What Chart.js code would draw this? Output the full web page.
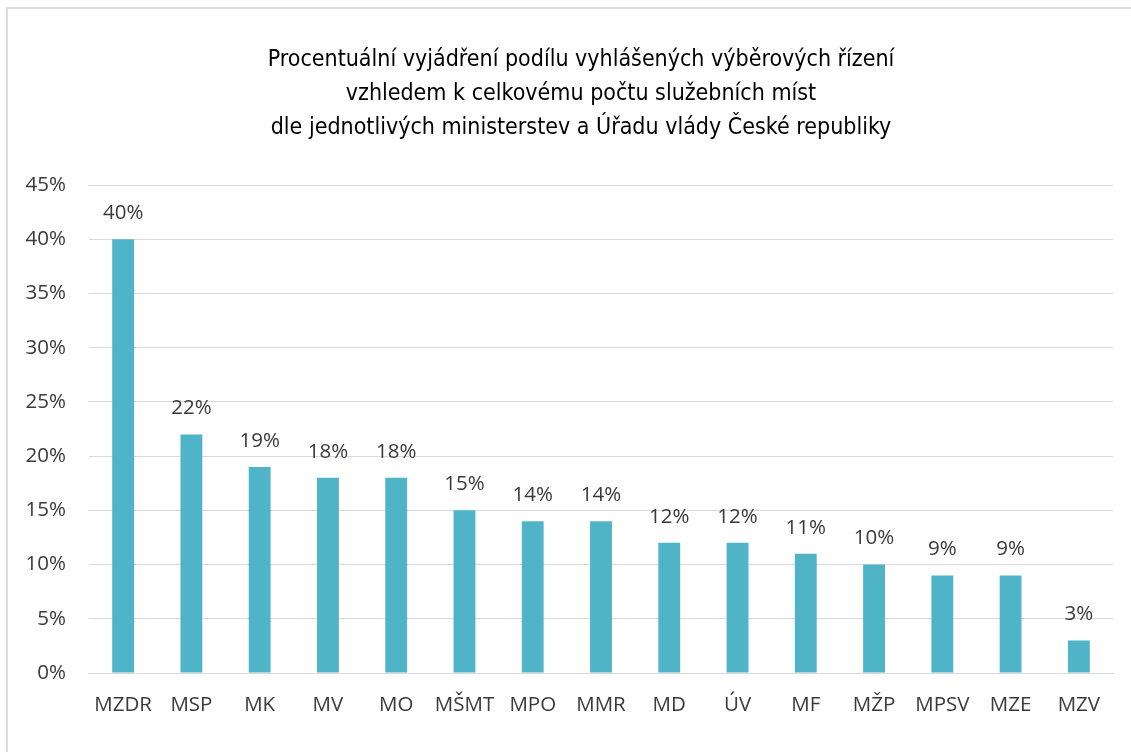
<!DOCTYPE html>
<html>
<head>
<meta charset="utf-8">
<script src="https://cdn.jsdelivr.net/npm/chart.js@4"></script>
<style>
  html, body { margin: 0; padding: 0; background: #ffffff; overflow: hidden; }
  #wrap { position: relative; width: 1131px; height: 752px; }
  #frame { position: absolute; left: 6px; top: 7px; width: 1200px; height: 800px; border: 2px solid #dedede; pointer-events: none; }
  canvas { position: absolute; left: 0; top: 0; }
</style>
</head>
<body>
<div id="wrap">
  <canvas id="c" width="1131" height="752"></canvas>
  <div id="frame"></div>
</div>
<script>
const titleLines = [
  "Procentuální vyjádření podílu vyhlášených výběrových řízení",
  "vzhledem k celkovému počtu služebních míst",
  "dle jednotlivých ministerstev a Úřadu vlády České republiky"
];
const categories = ["MZDR", "MSP", "MK", "MV", "MO", "MŠMT", "MPO", "MMR", "MD", "ÚV", "MF", "MŽP", "MPSV", "MZE", "MZV"];
const shares = [40, 22, 19, 18, 18, 15, 14, 14, 12, 12, 11, 10, 9, 9, 3];
const yMin = 0, yMax = 45, yStep = 5;

const textColor = "#3a3a3a";
const barColor = "#4FB4C8";
const gridColor = "#d9d9d9";
const tickFont = { family: "'Open Sans', 'Noto Sans', sans-serif", size: 20.5 };
const titleFont = "23px 'Liberation Sans Narrow', 'DejaVu Sans Condensed', sans-serif";

const titleDraw = {
  id: "titleDraw",
  afterDraw(chart) {
    const ctx = chart.ctx;
    ctx.save();
    ctx.font = titleFont;
    ctx.fillStyle = "#000000";
    ctx.textAlign = "center";
    ctx.textBaseline = "middle";
    titleLines.forEach((line, i) => ctx.fillText(line, 581, 60 + i * 34));
    ctx.restore();
  }
};

const valueLabels = {
  id: "valueLabels",
  afterDatasetsDraw(chart) {
    const ctx = chart.ctx;
    const meta = chart.getDatasetMeta(0);
    ctx.save();
    ctx.font = `${tickFont.size}px ${tickFont.family}`;
    ctx.fillStyle = textColor;
    ctx.textAlign = "center";
    ctx.textBaseline = "middle";
    meta.data.forEach((bar, i) => {
      ctx.fillText(shares[i] + "%", bar.x, bar.y - 26);
    });
    ctx.restore();
  }
};

new Chart(document.getElementById("c"), {
  type: "bar",
  data: {
    labels: categories,
    datasets: [{
      data: shares,
      backgroundColor: barColor,
      borderWidth: 0,
      barPercentage: 0.32,
      categoryPercentage: 1.0
    }]
  },
  options: {
    responsive: false,
    animation: false,
    devicePixelRatio: 1,
    layout: { padding: { left: 0, right: 18, top: 185, bottom: 0 } },
    plugins: {
      legend: { display: false },
      tooltip: { enabled: false },
      title: { display: false }
    },
    scales: {
      x: {
        grid: { display: false, drawTicks: false },
        border: { display: true, color: gridColor, width: 1 },
        ticks: { color: textColor, font: tickFont, padding: 20, maxRotation: 0, autoSkip: false },
        afterFit(scale) { scale.height = 79; }
      },
      y: {
        min: yMin, max: yMax,
        grid: { color: gridColor, lineWidth: 1, drawTicks: false },
        border: { display: false },
        ticks: { stepSize: yStep, color: textColor, font: tickFont, padding: 23, callback: v => v + "%" },
        afterFit(scale) { scale.width = 89; }
      }
    }
  },
  plugins: [valueLabels, titleDraw]
});
</script>
</body>
</html>
